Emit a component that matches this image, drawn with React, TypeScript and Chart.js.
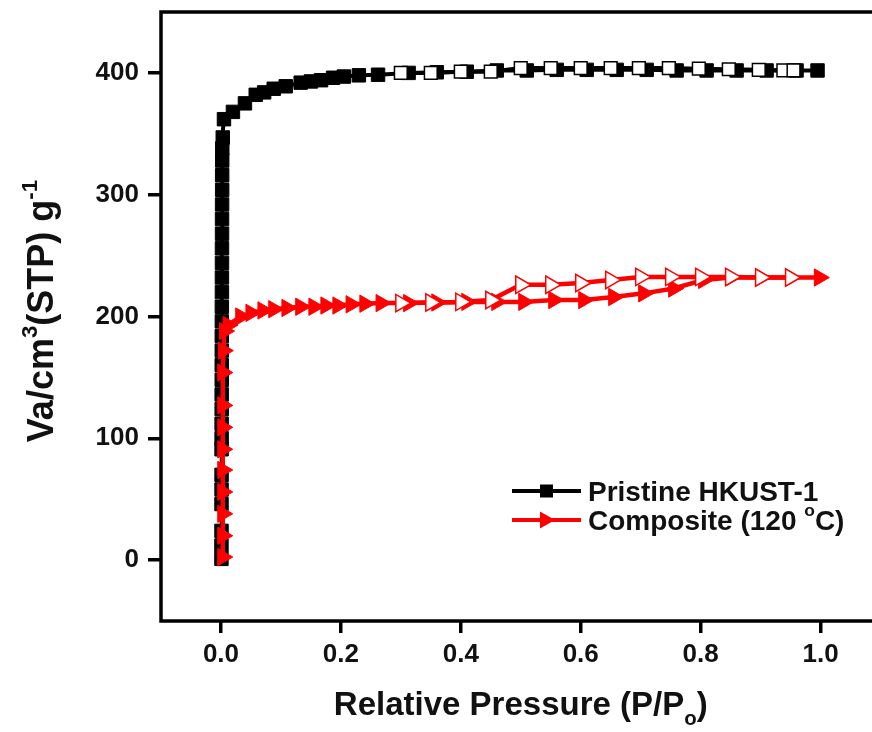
import React, { useEffect, useRef } from "react";
import { Chart, registerables } from "chart.js";

Chart.register(...registerables);

const FONT = '"Liberation Sans", Arial, Helvetica, sans-serif';

const X_TICKS = [0, 0.2, 0.4, 0.6, 0.8, 1.0];
const Y_TICKS = [0, 100, 200, 300, 400];

// Pristine HKUST-1, adsorption branch (filled squares)
const HKUST_ADS_P = [
  0.0008, 0.0008, 0.0009, 0.0009, 0.001, 0.001, 0.001, 0.0011, 0.0011, 0.0012,
  0.0012, 0.0013, 0.0013, 0.0014, 0.0014, 0.0015, 0.0015, 0.0016, 0.0016, 0.0017,
  0.0017, 0.0018, 0.0018, 0.0019, 0.002, 0.002, 0.0021, 0.0022, 0.003, 0.005,
  0.02, 0.04, 0.058, 0.072, 0.088, 0.108, 0.133, 0.15, 0.167, 0.187,
  0.205, 0.23, 0.262, 0.313, 0.36, 0.41, 0.46, 0.51, 0.56, 0.61,
  0.66, 0.71, 0.76, 0.81, 0.86, 0.91, 0.96, 0.995,
];
const HKUST_ADS_V = [
  1, 12, 24, 46, 58, 70, 91, 100, 112, 124,
  136, 148, 160, 172, 184, 196, 208, 220, 232, 244,
  256, 268, 280, 292, 304, 316, 328, 338, 347, 362,
  368, 375, 382, 384, 387, 389, 392, 393, 394, 396,
  397, 398, 398.5, 400, 400.5, 401, 402, 402, 402.5, 402.5,
  402.5, 402.5, 402, 402, 402, 402, 402, 402,
];

// Pristine HKUST-1, desorption branch (open squares)
const HKUST_DES_P = [0.3, 0.35, 0.4, 0.45, 0.5, 0.55, 0.6, 0.65, 0.697, 0.747, 0.797, 0.847, 0.897, 0.938, 0.955];
const HKUST_DES_V = [400, 400, 401, 401, 404, 404, 404, 404, 404, 404, 403.5, 403, 402.5, 402, 402];

// Composite (120 °C), adsorption branch (filled triangles)
const COMP_ADS_P = [
  0.003, 0.003, 0.003, 0.003, 0.003, 0.003, 0.003, 0.003, 0.003, 0.004,
  0.006, 0.012, 0.033, 0.05, 0.07, 0.088, 0.11, 0.133, 0.155, 0.175,
  0.195, 0.217, 0.24, 0.267, 0.313, 0.36, 0.41, 0.46, 0.505, 0.555,
  0.605, 0.655, 0.705, 0.755, 0.805, 0.85, 0.9, 0.95, 0.998,
];
const COMP_ADS_V = [
  2.5, 20, 38, 56, 74, 91, 109, 127, 154, 172,
  188, 193, 200, 203, 205, 206, 207, 208, 208, 209,
  209, 210, 210.5, 211, 211, 211.5, 212, 212, 212, 213.5,
  213.5, 216, 219, 223, 230, 232, 232, 232, 232,
];

// Composite (120 °C), desorption branch (open triangles)
const COMP_DES_P = [0.3, 0.35, 0.4, 0.45, 0.5, 0.55, 0.6, 0.65, 0.7, 0.75, 0.8, 0.85, 0.9, 0.95];
const COMP_DES_V = [211, 211.5, 212, 213.5, 226, 226, 227.5, 230, 232.5, 232.5, 232.5, 232.5, 232, 232];

const LEGEND_LABELS = ["Pristine HKUST-1", "Composite (120 \u00B0C)"];

const zip = (xs: number[], ys: number[]) => xs.map((x, i) => ({ x, y: ys[i] }));

type Seg = { t: string; s?: number; dy?: number };

function richWidth(ctx: CanvasRenderingContext2D, segs: Seg[], size: number) {
  let w = 0;
  for (const sg of segs) {
    ctx.font = `bold ${size * (sg.s ?? 1)}px ${FONT}`;
    w += ctx.measureText(sg.t).width;
  }
  return w;
}

function drawRich(
  ctx: CanvasRenderingContext2D,
  segs: Seg[],
  x: number,
  y: number,
  size: number,
  align: "center" | "left"
) {
  const w = richWidth(ctx, segs, size);
  let cx = align === "center" ? x - w / 2 : x;
  ctx.textAlign = "left";
  ctx.textBaseline = "alphabetic";
  for (const sg of segs) {
    ctx.font = `bold ${size * (sg.s ?? 1)}px ${FONT}`;
    ctx.fillText(sg.t, cx, y + (sg.dy ?? 0) * size);
    cx += ctx.measureText(sg.t).width;
  }
}

const decorPlugin = {
  id: "decor",
  afterDraw(chart: any) {
    const { ctx, chartArea } = chart;
    const { left, top, right, bottom } = chartArea;
    ctx.save();
    // frame
    ctx.strokeStyle = "#000";
    ctx.lineWidth = 3.5;
    ctx.strokeRect(left, top, right - left, bottom - top);

    ctx.fillStyle = "#111";
    // x title
    drawRich(
      ctx,
      [
        { t: "Relative Pressure (P/P" },
        { t: "o", s: 0.62, dy: 0.3 },
        { t: ")" },
      ],
      (left + right) / 2,
      715,
      33,
      "center"
    );
    // y title
    ctx.save();
    ctx.translate(53, 311);
    ctx.rotate(-Math.PI / 2);
    drawRich(
      ctx,
      [
        { t: "Va/cm" },
        { t: "3", s: 0.62, dy: -0.45 },
        { t: "(STP) g" },
        { t: "-1", s: 0.62, dy: -0.45 },
      ],
      0,
      0,
      36,
      "center"
    );
    ctx.restore();

    // legend
    const rows = [
      { y: 491, color: "#000", style: "rect", label: [{ t: LEGEND_LABELS[0] }] as Seg[] },
      {
        y: 520,
        color: "#ff0000",
        style: "tri",
        label: [
          { t: "Composite (120 " },
          { t: "o", s: 0.62, dy: -0.5 },
          { t: "C)" },
        ] as Seg[],
      },
    ];
    for (const r of rows) {
      ctx.strokeStyle = r.color;
      ctx.fillStyle = r.color;
      ctx.lineWidth = 4;
      ctx.beginPath();
      ctx.moveTo(512, r.y);
      ctx.lineTo(581, r.y);
      ctx.stroke();
      ctx.beginPath();
      if (r.style === "rect") {
        ctx.rect(540, r.y - 6.5, 13, 13);
      } else {
        ctx.moveTo(555, r.y);
        ctx.lineTo(540, r.y - 8.5);
        ctx.lineTo(540, r.y + 8.5);
        ctx.closePath();
      }
      ctx.fill();
      ctx.fillStyle = "#111";
      drawRich(ctx, r.label, 588, r.y + 10, 28, "left");
    }
    ctx.restore();
  },
};

const zeroPad = (s: any) => {
  s.paddingTop = 0;
  s.paddingBottom = 0;
  s.paddingLeft = 0;
  s.paddingRight = 0;
};

export default function App() {
  const ref = useRef<HTMLCanvasElement | null>(null);

  useEffect(() => {
    if (!ref.current) return;
    const tickFont = { family: FONT, size: 26, weight: "bold" as const };
    const chart = new Chart(ref.current, {
      type: "scatter",
      data: {
        datasets: [
          {
            label: "Composite desorption",
            data: zip(COMP_DES_P, COMP_DES_V),
            showLine: true,
            borderColor: "#ff0000",
            borderWidth: 4.5,
            backgroundColor: "#ffffff",
            pointStyle: "triangle",
            rotation: 90,
            pointRadius: 10,
            pointBorderWidth: 1.5,
            pointBorderColor: "#ff0000",
            pointBackgroundColor: "#ffffff",
          },
          {
            label: "Composite adsorption",
            data: zip(COMP_ADS_P, COMP_ADS_V),
            showLine: true,
            borderColor: "#ff0000",
            borderWidth: 4.5,
            backgroundColor: "#ff0000",
            pointStyle: "triangle",
            rotation: 90,
            pointRadius: 10,
            pointBorderWidth: 1,
            pointBorderColor: "#ff0000",
            pointBackgroundColor: "#ff0000",
          },
          {
            label: "HKUST desorption",
            data: zip(HKUST_DES_P, HKUST_DES_V),
            showLine: true,
            borderColor: "#000000",
            borderWidth: 4,
            backgroundColor: "#ffffff",
            pointStyle: "rect",
            pointRadius: 9,
            pointBorderWidth: 1.5,
            pointBorderColor: "#000000",
            pointBackgroundColor: "#ffffff",
          },
          {
            label: "HKUST adsorption",
            data: zip(HKUST_ADS_P, HKUST_ADS_V),
            showLine: true,
            borderColor: "#000000",
            borderWidth: 4,
            backgroundColor: "#000000",
            pointStyle: "rect",
            pointRadius: 9.5,
            pointBorderWidth: 1,
            pointBorderColor: "#000000",
            pointBackgroundColor: "#000000",
          },
        ],
      },
      options: {
        animation: false,
        responsive: false,
        devicePixelRatio: 1,
        layout: { padding: { top: 12, left: 0, right: 0, bottom: 0 } },
        plugins: {
          legend: { display: false },
          tooltip: { enabled: false },
          title: { display: false },
        },
        scales: {
          x: {
            type: "linear",
            min: -0.1,
            max: 1.1,
            afterBuildTicks: (s: any) => {
              s.ticks = X_TICKS.map((v) => ({ value: v }));
            },
            afterFit: (s: any) => {
              s.height = 111;
              zeroPad(s);
            },
            border: { display: false },
            grid: {
              display: true,
              drawOnChartArea: false,
              drawTicks: true,
              tickLength: 12,
              lineWidth: 3.5,
              color: "#000",
            },
            ticks: {
              font: tickFont,
              color: "#111",
              padding: 6,
              maxRotation: 0,
              autoSkip: false,
              callback: (v: any) => Number(v).toFixed(1),
            },
          },
          y: {
            type: "linear",
            min: -50,
            max: 450,
            afterBuildTicks: (s: any) => {
              s.ticks = Y_TICKS.map((v) => ({ value: v }));
            },
            afterFit: (s: any) => {
              s.width = 161;
              zeroPad(s);
            },
            border: { display: false },
            grid: {
              display: true,
              drawOnChartArea: false,
              drawTicks: true,
              tickLength: 13,
              lineWidth: 3.5,
              color: "#000",
            },
            ticks: {
              font: tickFont,
              color: "#111",
              padding: 9,
              autoSkip: false,
              callback: (v: any) => String(v),
            },
          },
        },
      },
      plugins: [decorPlugin],
    });
    return () => chart.destroy();
  }, []);

  return (
    <div
      style={{
        position: "fixed",
        left: 0,
        top: 0,
        width: 872,
        height: 732,
        overflow: "hidden",
        background: "#fff",
      }}
    >
      <canvas ref={ref} width={892} height={732} style={{ display: "block" }} />
    </div>
  );
}
